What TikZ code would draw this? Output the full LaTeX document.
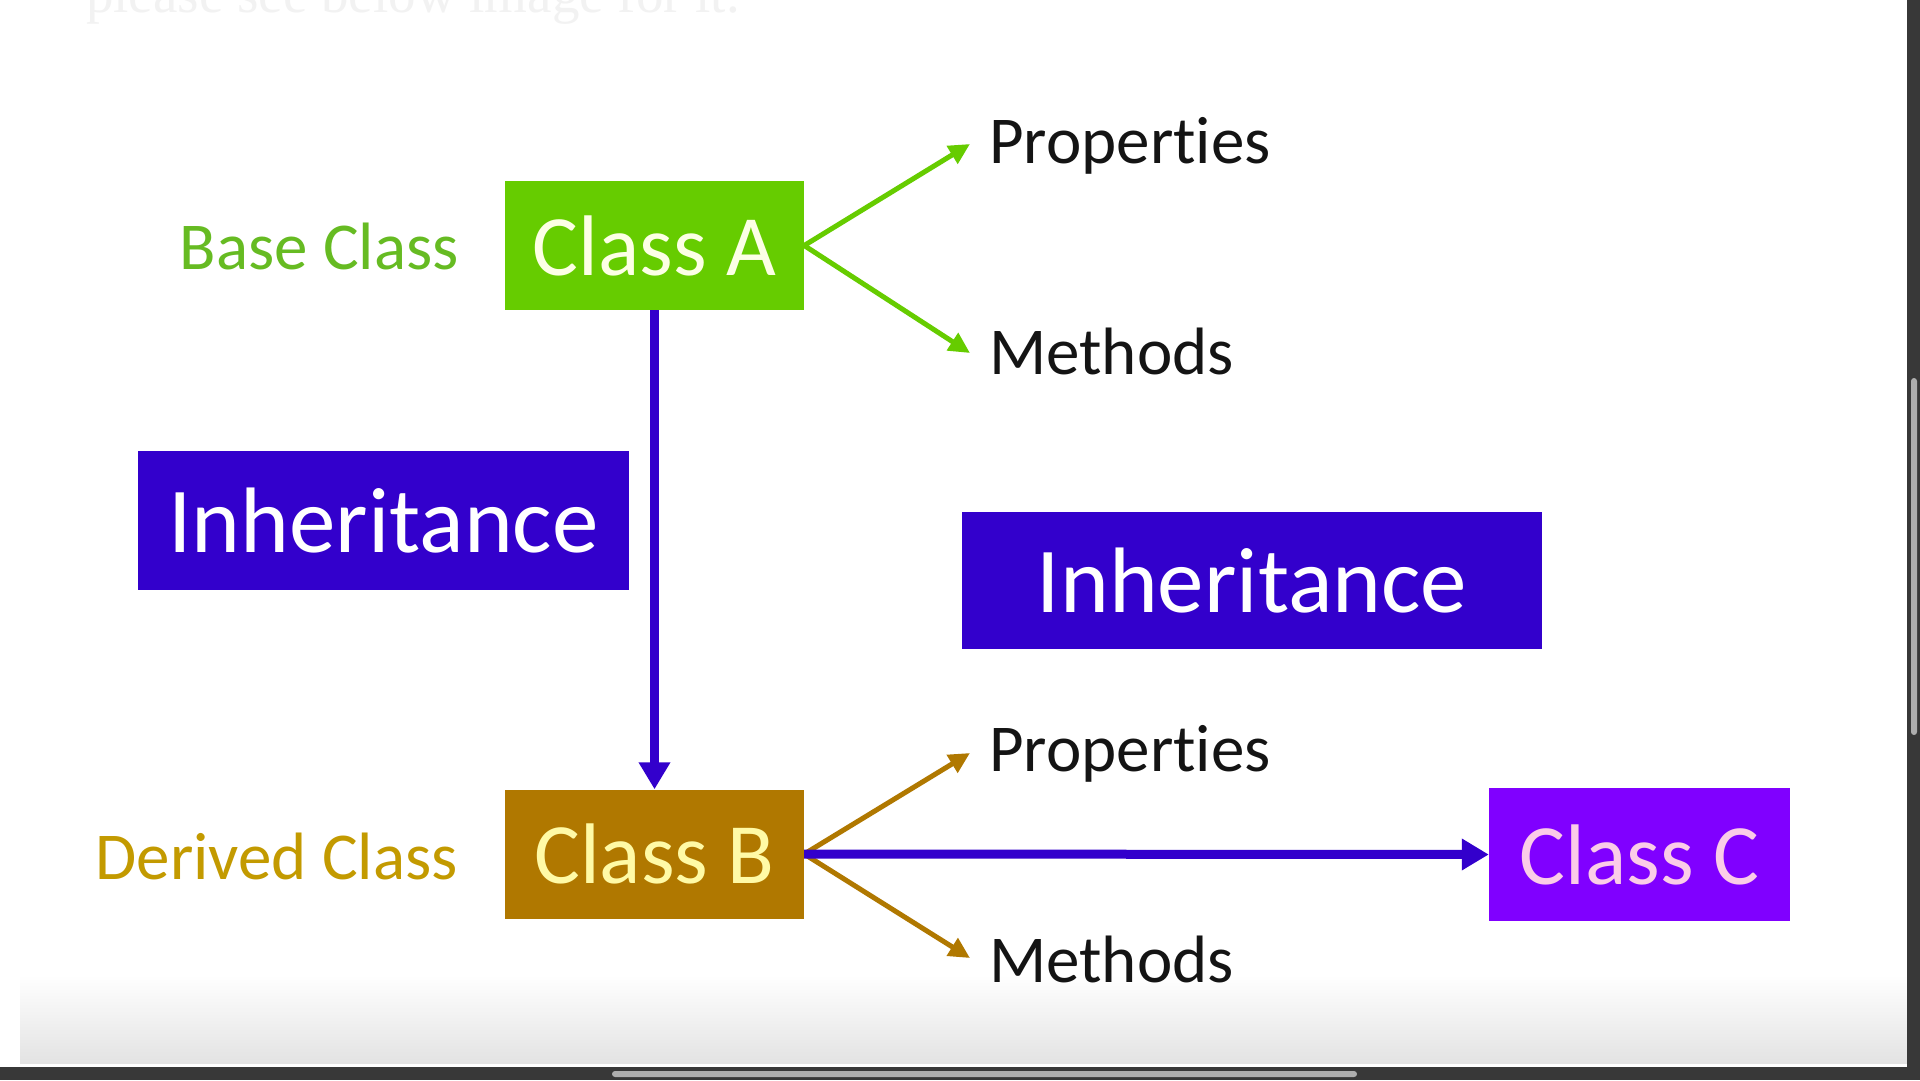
\documentclass[tikz,border=0pt]{standalone}
\usepackage{fontspec}
\setmainfont[Ligatures=NoCommon]{Carlito}
\newfontfamily\serifbg{Liberation Serif}
\usetikzlibrary{arrows.meta}
\definecolor{agreen}{HTML}{66CC00}
\definecolor{agreentxt}{HTML}{66BB22}
\definecolor{bbrown}{HTML}{B07800}
\definecolor{bbrowntxt}{HTML}{C39A00}
\definecolor{iblue}{HTML}{3300CC}
\definecolor{cpurple}{HTML}{8000FF}
\definecolor{darkbar}{HTML}{383838}
\definecolor{thumb}{HTML}{AEAEAE}
\tikzset{
  classbox/.style={draw=none, inner sep=0pt, minimum width=299pt, minimum height=129pt, font=\fontsize{86}{90}\selectfont},
  inhbox/.style={fill=iblue, text=white, inner sep=0pt, font=\fontsize{93}{98}\selectfont},
  sidelabel/.style={inner sep=0pt, font=\fontsize{67}{70}\selectfont},
  memberlabel/.style={inner sep=0pt, text=black!92, font=\fontsize{67}{70}\selectfont},
  garrow/.style={draw=agreen, line width=5pt, -{Triangle[length=21pt,width=20pt]}},
  barrow/.style={draw=bbrown, line width=5pt, -{Triangle[length=21pt,width=20pt]}},
  iarrow/.style={draw=iblue, line width=9pt, -{Triangle[length=27pt,width=30pt]}},
}
\begin{document}
\begin{tikzpicture}[x=1pt,y=-1pt]
\useasboundingbox (0,0) rectangle (1920,1080);
\fill[white] (0,0) rectangle (1920,1080);
% faint text at top
\node[anchor=base west, inner sep=0pt, text=black!5, font=\serifbg\fontsize{55}{60}\selectfont] (toptext) at (86,12) {please see below image for it.};
% bottom fade
\shade[top color=white, bottom color=black!11] (20,975) rectangle (1907,1063);
% window frame
\fill[darkbar] (1907,0) rectangle (1920,1080);
\fill[darkbar] (0,1067) rectangle (1920,1080);
\fill[thumb, rounded corners=3pt] (1911,378) rectangle (1917,735);
\fill[thumb, rounded corners=3pt] (612,1071) rectangle (1357,1077);

% boxes
\node[classbox, fill=agreen, text=green!10!yellow!10] (A) at (654.5,245.5) {Class A};
\node[classbox, fill=bbrown, text=yellow!35] (B) at (654.5,854) {Class B};
\node[classbox, fill=cpurple, text=magenta!20, minimum width=301pt, minimum height=133pt] (C) at (1639.5,854.5) {Class C};
\node[inhbox, minimum width=491pt, minimum height=139pt] (inh1) at (383.5,520.5) {Inheritance};
\node[inhbox, minimum width=580pt, minimum height=137pt] (inh2) at (1252,580.5) {Inheritance};

% side labels
\node[sidelabel, text=agreentxt, anchor=base east] (base) at (459,269) {Base Class};
\node[sidelabel, text=bbrowntxt, anchor=base east] (derived) at (458,879) {Derived Class};

% member labels
\node[memberlabel, anchor=base west] (propA) at (989,163) {Properties};
\node[memberlabel, anchor=base west] (methA) at (989,374) {Methods};
\node[memberlabel, anchor=base west] (propB) at (989,771) {Properties};
\node[memberlabel, anchor=base west] (methB) at (989,982) {Methods};

\coordinate (tpA) at (970,144);
\coordinate (tmA) at (970,353);
\coordinate (tpB) at (970,753);
\coordinate (tmB) at (970,958);

% connectors
\draw[garrow] (A.east) -- (tpA);
\draw[garrow] (A.east) -- (tmA);
\draw[barrow] (B.east) -- (tpB);
\draw[barrow] (B.east) -- (tmB);
\draw[iarrow] (A.south) -- (B.north);
\draw[iarrow] (B.east) -- (C.west);
\end{tikzpicture}
\end{document}
